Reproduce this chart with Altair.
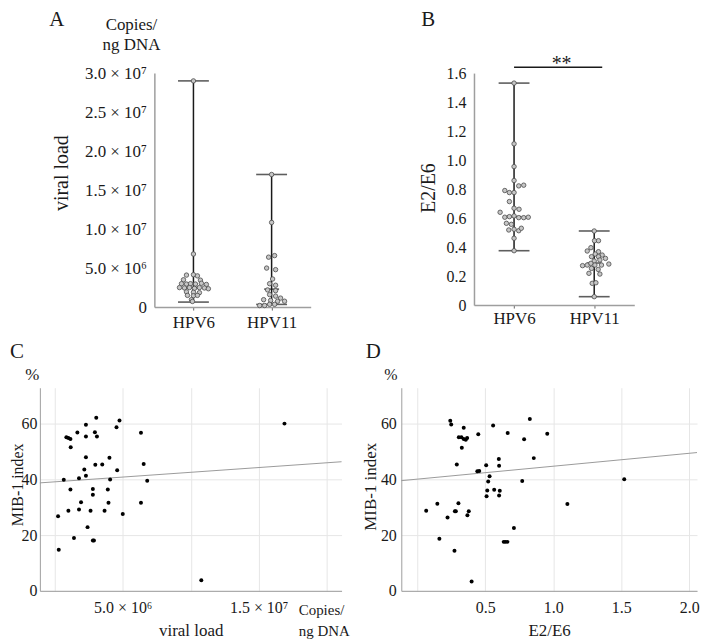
import altair as alt
import pandas as pd

FONT = "Liberation Serif"
INK = "#1a1a1a"
AX = "#9e9e9e"
GRID = "#e6e6e6"

groups = ["HPV6", "HPV11"]

a_hpv6_val = [29.0, 6.8, 4.1, 4.15, 4.0, 3.5, 3.45, 3.0, 2.95, 3.0, 2.95, 3.05, 2.9,
              2.5, 2.45, 2.5, 2.4, 2.5, 2.45, 2.35, 1.95, 1.9, 1.85, 1.5, 1.45, 1.5, 0.95, 0.72]
a_hpv6_jit = [0, 0, -7, 0, 4, -10, 7, -12, -7, -3, 2, 8, 13,
              -14, -9, -4, 1, 6, 11, 15, -7, 0, 6, -6, 0, 4, -2, -1]
a_hpv11_val = [17.0, 10.85, 6.4, 6.6, 5.0, 4.8, 3.6, 3.0, 2.8, 2.2, 2.1, 1.6, 1.4,
               1.15, 0.95, 0.85, 0.75, 0.75, 0.2, 0.2, 0.35, 0.35]
a_hpv11_jit = [0, 0, -3, 3, -5, 4, 1, -2, 4, -4, 4, -2, 4,
               9, -8, -1, 6, 13, -12, -7, -2, 3]
a_min = [0.64, 0.34]
a_med = [2.5, 2.3]
a_max = [29.0, 17.0]
a_ticks = [0, 5e6, 1e7, 1.5e7, 2e7, 2.5e7, 3e7]

b_hpv6_val = [1.531, 1.112, 0.955, 0.859, 0.822, 0.827, 0.79, 0.776, 0.776, 0.714, 0.668,
              0.661, 0.64, 0.606, 0.61, 0.615, 0.603, 0.603, 0.606, 0.564, 0.557, 0.518,
              0.523, 0.513, 0.53, 0.461, 0.375]
b_hpv6_jit = [0, 0, 0, 0, 4.7, 9.7, -9.3, -4.7, 0, -4.7, 0,
              5, -14, -9.3, -4.7, 0, 4.7, 9.7, 14.3, -7.7, -2.7, -5.3,
              0, 4.7, 7.3, 0, 0]
b_hpv11_val = [0.511, 0.444, 0.444, 0.396, 0.373, 0.368, 0.352, 0.345, 0.334, 0.334, 0.322,
               0.304, 0.311, 0.272, 0.276, 0.288, 0.276, 0.276, 0.283, 0.253, 0.246, 0.219,
               0.214, 0.150, 0.154, 0.058]
b_hpv11_jit = [0, 0.3, 4.3, -3.3, -7, 4.3, 1, 8, -2.7, 4.3, 11.3,
               0, 5.7, -11.7, -7, -3.3, 0.7, 7.3, 14.7, -2.7, 4, -5.3,
               5.7, -2, 1.7, 0]
b_min = [0.375, 0.058]
b_med = [0.61, 0.29]
b_max = [1.531, 0.511]
b_ticks = [0, 0.2, 0.4, 0.6, 0.8, 1.0, 1.2, 1.4, 1.6]
sig_from, sig_to, sig_level, sig_text, sig_text_x = 0.5, 1.6, 1.64, "**", 1.093

c_load_m = [0.24, 0.29, 0.66, 0.85, 1.0, 1.0, 1.15, 1.17, 1.15, 1.41, 1.66, 1.78, 1.78, 1.93, 2.17,
            2.29, 2.29, 2.29, 2.29, 2.41, 2.63, 2.8, 2.8, 2.8, 2.88, 2.95, 2.98, 3.05, 3.1, 3.49,
            3.66, 3.9, 3.95, 4.02, 4.07, 4.54, 4.59, 4.76, 5.0, 6.34, 6.34, 6.54, 6.8, 10.78, 16.9]
c_mib = [26.8, 14.8, 39.9, 55.2, 54.9, 28.8, 54.6, 51.6, 36.4, 19.0, 56.9, 40.5, 29.2, 31.8, 43.6,
         59.7, 55.5, 48.0, 41.4, 22.9, 28.8, 36.6, 34.5, 18.1, 18.1, 57.0, 45.3, 62.2, 55.5, 45.4,
         28.8, 36.4, 31.7, 47.8, 40.0, 58.8, 43.3, 61.2, 27.6, 56.8, 31.7, 45.6, 39.6, 3.8, 60.1]
c_fit_load_m = [-1.1, 21.1]
c_fit_mib = [38.8, 46.4]

d_ratio = [0.066, 0.148, 0.163, 0.223, 0.243, 0.25, 0.274, 0.277, 0.284, 0.291, 0.303, 0.306,
           0.325, 0.328, 0.342, 0.342, 0.357, 0.367, 0.369, 0.379, 0.4, 0.442, 0.449, 0.456,
           0.507, 0.51, 0.515, 0.522, 0.532, 0.558, 0.566, 0.6, 0.602, 0.602, 0.607, 0.636,
           0.648, 0.663, 0.665, 0.711, 0.772, 0.786, 0.828, 0.857, 0.956, 1.104, 1.522]
d_mib = [28.8, 31.3, 18.7, 26.4, 61.1, 59.8, 14.4, 28.6, 28.6, 45.4, 31.5, 55.2,
         55.2, 51.4, 58.6, 54.6, 54.3, 54.9, 27.2, 28.6, 3.4, 43.0, 56.3, 43.1,
         45.1, 34.0, 36.1, 39.3, 41.2, 59.4, 36.3, 47.4, 45.0, 34.3, 36.0, 17.6,
         17.6, 17.6, 56.7, 22.6, 39.5, 54.5, 61.8, 47.7, 56.5, 31.2, 40.1]
d_fit_ratio = [-0.117, 2.057]
d_fit_mib = [39.6, 49.7]

ONE = pd.DataFrame({"k": [0]})


def strip_df(v6, j6, v11, j11, mult, px_per_unit):
    rows = []
    for gi, (vals, jits) in enumerate([(v6, j6), (v11, j11)]):
        for v, j in zip(vals, jits):
            rows.append({"group": groups[gi], "x": gi + 0.5 + j / px_per_unit, "value": v * mult})
    return pd.DataFrame(rows)


def summary_df(lo, med, hi, mult):
    return pd.DataFrame({"group": groups, "xc": [0.5, 1.5],
                         "lo": [v * mult for v in lo],
                         "med": [v * mult for v in med],
                         "hi": [v * mult for v in hi]})


def bbox(L, T, R, B):
    # invisible frame that fixes the extent of each panel in the layout
    return alt.Chart(ONE).mark_rect(opacity=0).encode(
        x=alt.value(L), x2=alt.value(R), y=alt.value(T), y2=alt.value(B))


def spacer():
    return alt.Chart(ONE).mark_rect(opacity=0).encode(
        x=alt.value(0), x2=alt.value(1), y=alt.value(0), y2=alt.value(1)
    ).properties(width=1, height=1)


def label(text, x, y, size, align="center", baseline="alphabetic"):
    return alt.Chart(ONE).mark_text(
        text=text, font=FONT, fontSize=size, align=align, baseline=baseline, color=INK
    ).encode(x=alt.value(x), y=alt.value(y))


def strip_panel(pts, summ, ymax, yvals, ylabel_expr, ytitle, tx, ty, xlabpad, ylfs, extra):
    xs = alt.Scale(domain=[0, 2], nice=False, zero=False)
    ys = alt.Scale(domain=[0, ymax], nice=False)
    xaxis = alt.Axis(values=[0.5, 1.5], labelExpr="datum.value < 1 ? 'HPV6' : 'HPV11'",
                     title=None, grid=False, ticks=True, tickSize=3, tickColor="#666",
                     labelFontSize=17, labelPadding=xlabpad, domainColor=AX, domainWidth=1.5,
                     labelFlush=False)
    yaxis = alt.Axis(values=yvals, labelExpr=ylabel_expr, title=ytitle, titleFontSize=20,
                     titleX=tx, titleY=ty, titleAngle=270, titleAlign="center",
                     titleBaseline="middle", ticks=False, labelPadding=8, labelFontSize=ylfs,
                     grid=False, domainColor=AX, domainWidth=1.5, labelOverlap=False)
    base = alt.Chart(summ)
    X = lambda f: alt.X(f, scale=xs, axis=xaxis)
    Y = lambda f: alt.Y(f, scale=ys, axis=yaxis)
    rule = base.mark_rule(color=INK, strokeWidth=1.5).encode(x=X("xc:Q"), y=Y("lo:Q"), y2="hi:Q")
    caps = [base.mark_tick(orient="horizontal", size=s, thickness=1.6, color=INK).encode(
        x=X("xc:Q"), y=Y(f)) for f, s in [("lo:Q", 31), ("hi:Q", 31), ("med:Q", 15)]]
    dots = alt.Chart(pts).mark_circle(size=20, fill="#c6c6c6", stroke="#4a4a4a",
                                      strokeWidth=0.8, opacity=1).encode(
        x=X("x:Q"), y=Y("value:Q"))
    return [rule] + caps + [dots] + extra(X, Y)


ptsA = strip_df(a_hpv6_val, a_hpv6_jit, a_hpv11_val, a_hpv11_jit, 1e6, 78.5)
sumA = summary_df(a_min, a_med, a_max, 1e6)
exprA = ("datum.value == 0 ? '0' : datum.value < 10000000 ? format(datum.value/1000000, '.1f') + ' × 10⁶'"
         " : format(datum.value/10000000, '.1f') + ' × 10⁷'")
layersA = strip_panel(ptsA, sumA, 3e7, a_ticks, exprA, "viral load", -93, 100, 5, 17,
                      lambda X, Y: [])
panelA = alt.layer(
    bbox(-146, -64, 199, 263), *layersA,
    label("A", -98, -47, 21),
    label("Copies/", -23, -48, 17, baseline="middle"),
    label("ng DNA", -23, -28, 17, baseline="middle"),
).properties(width=157, height=235)

ptsB = strip_df(b_hpv6_val, b_hpv6_jit, b_hpv11_val, b_hpv11_jit, 1, 80.5)
sumB = summary_df(b_min, b_med, b_max, 1)
exprB = "datum.value == 0 ? '0' : format(datum.value, '.1f')"
sigdf = pd.DataFrame({"x": [sig_from], "x2": [sig_to], "y": [sig_level],
                      "tx": [sig_text_x], "t": [sig_text]})


def sig_layers(X, Y):
    bar = alt.Chart(sigdf).mark_rule(color=INK, strokeWidth=1.5).encode(
        x=X("x:Q"), x2="x2:Q", y=Y("y:Q"))
    txt = alt.Chart(sigdf).mark_text(font=FONT, fontSize=20, dy=3, color=INK,
                                     baseline="alphabetic").encode(
        x=X("tx:Q"), y=Y("y:Q"), text="t:N")
    return [bar, txt]


layersB = strip_panel(ptsB, sumB, 1.6, b_ticks, exprB, "E2/E6", -46, 115, 2, 16, sig_layers)
panelB = alt.layer(
    bbox(-122, -64, 224, 263), *layersB,
    label("B", -46, -47, 21),
).properties(width=161, height=233)


def scatter_panel(df, fit, xdom, xvals, xlabel_expr, xtitle, ytx, yty, width, ytfs, ylpad):
    xs = alt.Scale(domain=xdom, nice=False, zero=False)
    ys = alt.Scale(domain=[0, 73], nice=False)
    xaxis = alt.Axis(values=xvals, labelExpr=xlabel_expr, title=xtitle, titleFontSize=17,
                     titleX=width / 2, titleY=45, titleAlign="center",
                     titleBaseline="alphabetic", grid=True, gridColor=GRID,
                     ticks=False, labelPadding=9, labelFontSize=16, domainColor=AX,
                     labelFlush=False, labelOverlap=False)
    yaxis = alt.Axis(values=[0, 20, 40, 60], title="MIB-1 index", titleFontSize=ytfs,
                     titleX=ytx, titleY=yty, titleAngle=270, titleAlign="center",
                     titleBaseline="middle", grid=True, gridColor=GRID, ticks=False,
                     labelPadding=ylpad, labelFontSize=16, domainColor=AX)
    line = alt.Chart(fit).mark_line(color="#9a9a9a", strokeWidth=1).encode(
        x=alt.X("x:Q", scale=xs, axis=xaxis), y=alt.Y("y:Q", scale=ys, axis=yaxis))
    dots = alt.Chart(df).mark_circle(size=16, color="black", opacity=1).encode(
        x=alt.X("x:Q", scale=xs, axis=xaxis), y=alt.Y("y:Q", scale=ys, axis=yaxis))
    return [line, dots]


dfC = pd.DataFrame({"x": [v * 1e6 for v in c_load_m], "y": c_mib})
fitC = pd.DataFrame({"x": [v * 1e6 for v in c_fit_load_m], "y": c_fit_mib})
exprC = ("datum.value == 5000000 ? '5.0 × 10⁶' : datum.value == 15000000 ? '1.5 × 10⁷' : ''")
panelC = alt.layer(
    bbox(-31, -53, 314, 253),
    *scatter_panel(dfC, fitC, [-1.1e6, 2.11e7], [0, 5e6, 1e7, 1.5e7, 2e7], exprC,
                   "viral load", -22.5, 97, 303, 16, 3),
    label("C", -23, -30, 21),
    label("%", -7.5, -8, 17),
    label("Copies/", 260, 223, 15, align="left", baseline="middle"),
    label("ng DNA", 260, 244, 15, align="left", baseline="middle"),
).properties(width=303, height=204)

dfD = pd.DataFrame({"x": d_ratio, "y": d_mib})
fitD = pd.DataFrame({"x": d_fit_ratio, "y": d_fit_mib})
exprD = "datum.value == 0 ? '' : format(datum.value, '.1f')"
panelD = alt.layer(
    bbox(-49, -53, 297, 253),
    *scatter_panel(dfD, fitD, [-0.117, 2.057], [0, 0.5, 1.0, 1.5, 2.0], exprD,
                   "E2/E6", -31, 99, 297, 17, 5),
    label("D", -28, -30, 21),
    label("%", -10.5, -8, 16),
).properties(width=297, height=204)

chart = alt.vconcat(
    alt.hconcat(spacer(), panelA, panelB, spacing=0),
    alt.hconcat(spacer(), panelC, panelD, spacing=0),
    spacing=0,
).properties(padding=0, background="white").configure_view(
    stroke=None
).configure_axis(
    labelFont=FONT, titleFont=FONT, labelColor=INK, titleColor=INK, titleFontWeight="normal"
)

chart.save("out.html", embed_options={"renderer": "svg", "actions": False})
